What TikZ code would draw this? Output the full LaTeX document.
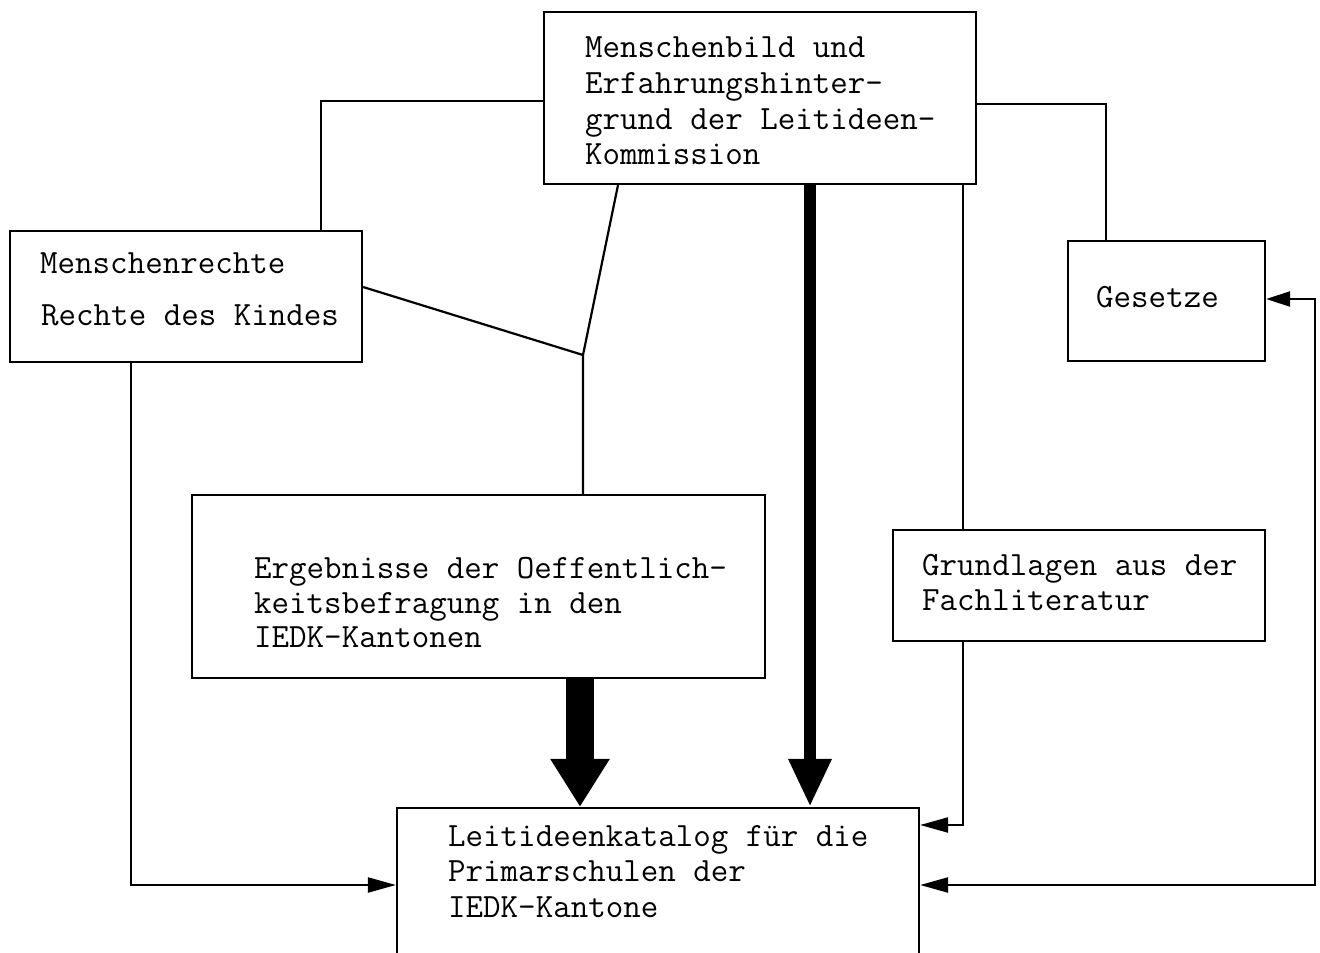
\documentclass[tikz,border=0pt]{standalone}
\usepackage{fontspec}
\usetikzlibrary{arrows.meta}
\tikzset{
  box/.style={draw, line width=2.2pt, inner sep=0pt},
  txt/.style={inner sep=0pt, anchor=base west, font=\ttfamily\fontsize{34}{35}\selectfont},
  conn/.style={line width=2.2pt},
  arr/.style={line width=2.2pt, -{Triangle[length=28pt,width=15pt]}},
  bigarr/.style={line width=28pt, -{Triangle[length=48pt,width=56pt]}},
  midarr/.style={line width=12pt, -{Triangle[length=48pt,width=40pt]}},
}
\begin{document}
\begin{tikzpicture}[x=1pt,y=-1pt]
\useasboundingbox (0,0) rectangle (1320,953);
% boxes
\node[box, minimum width=432pt, minimum height=172pt] (top) at (760,98) {};
\node[box, minimum width=352pt, minimum height=131pt] (mr) at (186,296.5) {};
\node[box, minimum width=197pt, minimum height=120pt] (ges) at (1166.5,301) {};
\node[box, minimum width=573pt, minimum height=183pt] (erg) at (478.5,586.5) {};
\node[box, minimum width=372pt, minimum height=111pt] (gru) at (1079,585.5) {};
\node[box, minimum width=522pt, minimum height=192pt] (lei) at (658,904) {};
% texts
\node[txt] (t1) at (585,57) {Menschenbild und};
\node[txt] (t2) at (585,93) {Erfahrungshinter-};
\node[txt] (t3) at (585,129) {grund der Leitideen-};
\node[txt] (t4) at (585,164) {Kommission};
\node[txt] (m1) at (40,273) {Menschenrechte};
\node[txt] (m2) at (41,325) {Rechte des Kindes};
\node[txt] (g1) at (1096,307) {Gesetze};
\node[txt] (e1) at (254,578) {Ergebnisse der Oeffentlich-};
\node[txt] (e2) at (254,613) {keitsbefragung in den};
\node[txt] (e3) at (254,647) {IEDK-Kantonen};
\node[txt] (f1) at (922,575) {Grundlagen aus der};
\node[txt] (f2) at (922,610) {Fachliteratur};
\node[txt] (l1) at (448,846) {Leitideenkatalog für die};
\node[txt] (l2) at (448,881) {Primarschulen der};
\node[txt] (l3) at (448,917) {IEDK-Kantone};
% connectors
\coordinate (J) at (583,355);
\draw[conn] (top.west |- 0,101) -| (mr.north -| 321,0);
\draw[conn] (top.east |- 0,104) -| (ges.north -| 1106,0);
\draw[conn] (top.south -| 618,0) -- (J) -- (erg.north -| 583,0);
\draw[conn] (mr.east |- 0,287) -- (J);
\draw[conn] (top.south -| 963,0) -- (gru.north -| 963,0);
\draw[arr] (gru.south -| 963,0) |- (lei.east |- 0,825);
\draw[arr] (mr.south -| 131,0) |- (lei.west |- 0,885);
\draw[line width=2.2pt, {Triangle[length=28pt,width=15pt]}-{Triangle[length=24pt,width=15pt]}]
  (lei.east |- 0,885) -| (1315,299) -- (ges.east |- 0,299);
\draw[bigarr] (erg.south -| 580,0) -- (lei.north -| 580,0);
\draw[midarr] (top.south -| 810,0) -- (lei.north -| 810,0);
\end{tikzpicture}
\end{document}
